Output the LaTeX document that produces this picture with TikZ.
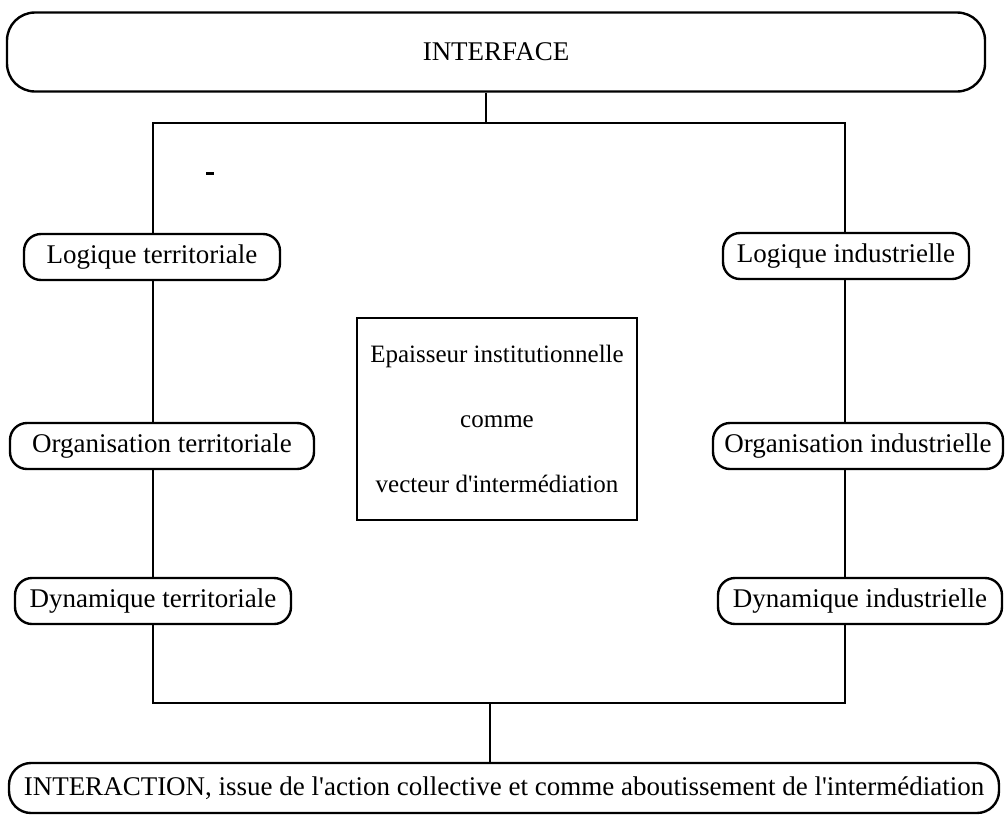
\documentclass[tikz,border=0pt]{standalone}
\usepackage{fontspec}
\setmainfont{Liberation Serif}[Ligatures=TeXOff]
\begin{document}
\begin{tikzpicture}[x=1pt,y=-1pt,
  every node/.style={font=\fontsize{27}{32}\selectfont},
  pill/.style={draw, line width=2.4pt, rounded corners=17pt, minimum height=46pt, inner sep=0pt, fill=white},
  bigpill/.style={draw, line width=2.4pt, rounded corners=28pt, inner sep=0pt, fill=white},
  link/.style={line width=2.4pt}]
\useasboundingbox (0,0) rectangle (1008,814);

% top and bottom banners
\node[bigpill, minimum width=978pt, minimum height=79pt] (iface) at (496,52) {INTERFACE};
\node[bigpill, rounded corners=22pt, minimum width=990pt, minimum height=50pt] (iact) at (504,788)
  {INTERACTION, issue de l'action collective et comme aboutissement de l'intermédiation};

% left column
\node[pill, minimum width=256pt] (lt) at (152,257) {Logique territoriale};
\node[pill, minimum width=304pt] (ot) at (162,446) {Organisation territoriale};
\node[pill, minimum width=276pt] (dt) at (153,601) {Dynamique territoriale};

% right column
\node[pill, minimum width=246pt] (li) at (846,256) {Logique industrielle};
\node[pill, minimum width=290pt] (oi) at (858,446) {Organisation industrielle};
\node[pill, minimum width=284pt] (di) at (860,601) {Dynamique industrielle};

% central box
\node[draw, line width=2.4pt, minimum width=280pt, minimum height=202pt, align=center,
  font=\fontsize{25}{65}\selectfont] (core) at (497,419)
  {Epaisseur institutionnelle\\comme\\vecteur d'intermédiation};

% frame corners
\coordinate (tl) at (153,123);
\coordinate (tr) at (845,123);
\coordinate (bl) at (153,703);
\coordinate (br) at (845,703);
\coordinate (topjoin) at (486,123);
\coordinate (botjoin) at (490,703);

% connectors
\draw[link] (iface.south -| topjoin) -- (topjoin);
\draw[link] (lt.north -| tl) -- (tl) -- (tr) -- (li.north -| tr);
\draw[link] (lt.south -| tl) -- (ot.north -| tl);
\draw[link] (ot.south -| tl) -- (dt.north -| tl);
\draw[link] (dt.south -| tl) -- (bl) -- (br) -- (di.south -| br);
\draw[link] (li.south -| tr) -- (oi.north -| tr);
\draw[link] (oi.south -| tr) -- (di.north -| tr);
\draw[link] (botjoin) -- (iact.north -| botjoin);

% small stray mark
\draw[line width=3pt] (206,173) -- (214,173);
\end{tikzpicture}
\end{document}
